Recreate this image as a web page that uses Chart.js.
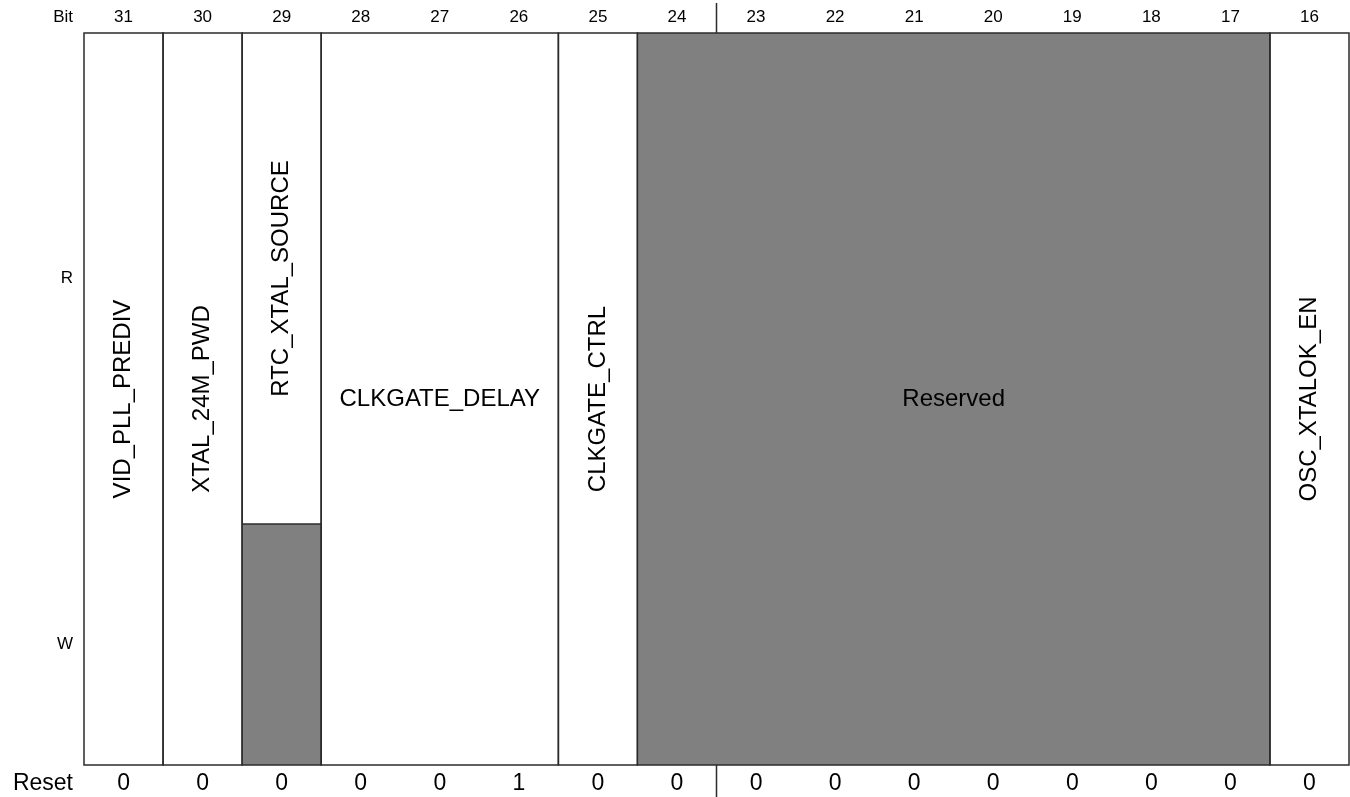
<!DOCTYPE html>
<html>
<head>
<meta charset="utf-8">
<script src="https://cdn.jsdelivr.net/npm/chart.js@4.4.1/dist/chart.umd.min.js"></script>
<style>
  html, body { margin: 0; padding: 0; background: #fff; }
  #wrap { width: 1350px; height: 797px; }
</style>
</head>
<body>
<div id="wrap"><canvas id="reg"></canvas></div>
<script>
// ===============================
// DATA
// ===============================
const bitNumbers = [31, 30, 29, 28, 27, 26, 25, 24, 23, 22, 21, 20, 19, 18, 17, 16];
const resetValues = [0, 0, 0, 0, 0, 1, 0, 0, 0, 0, 0, 0, 0, 0, 0, 0];
const rowLabels = ['R', 'W'];

const fieldNames = ['VID_PLL_PREDIV', 'XTAL_24M_PWD', 'RTC_XTAL_SOURCE', 'CLKGATE_DELAY', 'CLKGATE_CTRL', 'Reserved', 'OSC_XTALOK_EN'];
const fieldMsb = [31, 30, 29, 28, 25, 24, 16];
const fieldLsb = [31, 30, 29, 26, 25, 17, 16];
const fieldReadable = [true, true, true, true, true, false, true];
const fieldWritable = [true, true, false, true, true, false, true];

// ===============================
// STYLE
// ===============================
const FONT = '"Liberation Sans", Arial, Helvetica, sans-serif';
const GRAY = '#808080';
const LINE = '#2b2b2b';
const rowSplit = 0.671;   // fraction of box height used by the R row
const labelRight = 73;

const topBit = bitNumbers[0];

const registerPlugin = {
    id: 'registerDraw',
    afterDraw(chart) {
        const ctx = chart.ctx;
        const xs = chart.scales.x;
        const ys = chart.scales.y;
        const top = ys.getPixelForValue(0);
        const mid = Math.round(ys.getPixelForValue(rowSplit));
        const bottom = ys.getPixelForValue(1);

        ctx.save();

        // Field cells
        fieldNames.forEach((name, i) => {
            const x0 = xs.getPixelForValue(topBit - fieldMsb[i]);
            const x1 = xs.getPixelForValue(topBit - fieldLsb[i] + 1);
            ctx.fillStyle = GRAY;
            if (!fieldReadable[i] && !fieldWritable[i]) {
                ctx.fillRect(x0, top, x1 - x0, bottom - top);
            } else if (!fieldReadable[i]) {
                ctx.fillRect(x0, top, x1 - x0, mid - top);
            } else if (!fieldWritable[i]) {
                ctx.fillRect(x0, mid, x1 - x0, bottom - mid);
            }

            ctx.strokeStyle = LINE;
            ctx.lineWidth = 1.5;
            ctx.strokeRect(x0, top, x1 - x0, bottom - top);
            if (fieldReadable[i] !== fieldWritable[i]) {
                ctx.beginPath();
                ctx.moveTo(x0, mid);
                ctx.lineTo(x1, mid);
                ctx.stroke();
            }

            // label placement: centred on the white part, or whole box if none
            let yA = top, yB = bottom;
            if (fieldReadable[i] && !fieldWritable[i]) { yA = top; yB = mid; }
            else if (!fieldReadable[i] && fieldWritable[i]) { yA = mid; yB = bottom; }
            const cx = (x0 + x1) / 2;
            const cy = (yA + yB) / 2;
            ctx.fillStyle = '#000';
            ctx.font = '24px ' + FONT;
            ctx.textAlign = 'center';
            ctx.textBaseline = 'middle';
            if (fieldMsb[i] === fieldLsb[i]) {
                ctx.save();
                ctx.translate(cx, cy);
                ctx.rotate(-Math.PI / 2);
                ctx.fillText(name, 0, 0);
                ctx.restore();
            } else {
                ctx.fillText(name, cx, cy);
            }
        });

        // Header bit numbers
        ctx.fillStyle = '#000';
        ctx.font = '17px ' + FONT;
        ctx.textBaseline = 'middle';
        ctx.textAlign = 'right';
        ctx.fillText('Bit', labelRight, 17);
        ctx.textAlign = 'center';
        bitNumbers.forEach((b, i) => {
            ctx.fillText(String(b), xs.getPixelForValue(i + 0.5), 17);
        });

        // Row labels
        ctx.textAlign = 'right';
        ctx.fillText(rowLabels[0], labelRight, (top + mid) / 2);
        ctx.fillText(rowLabels[1], labelRight, (mid + bottom) / 2);

        // Reset row
        ctx.font = '23px ' + FONT;
        ctx.fillText('Reset', labelRight, 784);
        ctx.textAlign = 'center';
        resetValues.forEach((v, i) => {
            ctx.fillText(String(v), xs.getPixelForValue(i + 0.5), 784);
        });

        // Halfword marker between bit 24 and 23
        const xm = xs.getPixelForValue(8);
        ctx.strokeStyle = LINE;
        ctx.lineWidth = 1.5;
        ctx.beginPath();
        ctx.moveTo(xm, 3);
        ctx.lineTo(xm, top);
        ctx.moveTo(xm, bottom);
        ctx.lineTo(xm, chart.height);
        ctx.stroke();

        ctx.restore();
    }
};

// ===============================
// INIT
// ===============================
const chart = new Chart(document.getElementById('reg').getContext('2d'), {
    type: 'scatter',
    data: { datasets: [{ data: [], pointRadius: 0 }] },
    options: {
        responsive: true,
        maintainAspectRatio: false,
        animation: false,
        events: [],
        layout: { padding: { left: 84, right: 1, top: 33, bottom: 32 } },
        plugins: { legend: { display: false }, tooltip: { enabled: false } },
        scales: {
            x: { type: 'linear', display: false, min: 0, max: bitNumbers.length },
            y: { type: 'linear', display: false, min: 0, max: 1, reverse: true }
        }
    },
    plugins: [registerPlugin]
});
</script>
</body>
</html>
